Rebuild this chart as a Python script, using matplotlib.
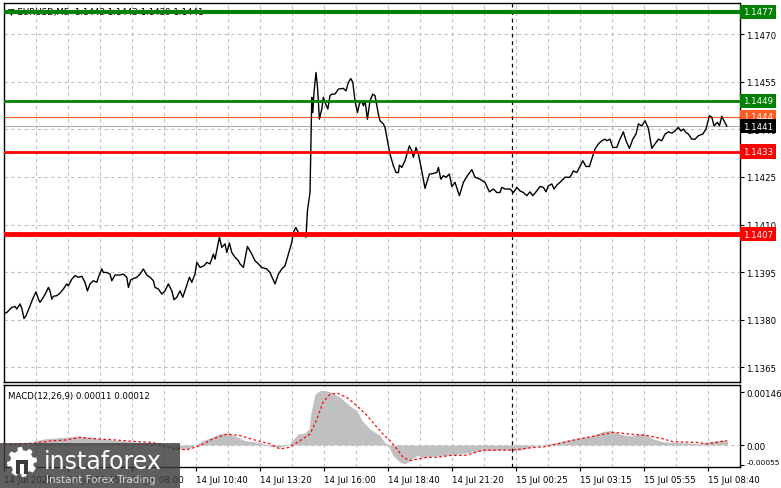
import numpy as np
import matplotlib
matplotlib.use("Agg")
from matplotlib import pyplot as plt
from matplotlib.patches import Rectangle, Polygon
from matplotlib import transforms

plt.rcParams['font.family'] = ['DejaVu Sans']

# price path, x = bar index (M5 bars), y = price
bars = [0, 1.4, 3.9, 5.5, 6.4, 8, 8.9, 10, 11, 12.7, 14.7, 16, 17.2, 18, 19.7, 21, 22.2, 23, 23.9, 24.7,
        26.4, 28, 29.7, 31.4, 32.2, 33.9, 35.5, 37.2, 38.9, 40.5, 41.7, 43, 44.7, 46.4, 47.2, 48.9, 49.7,
        51.4, 53, 53.9, 55.5, 58, 59.7, 61.4, 62.2, 63.4, 64.7, 66.4, 68, 69.7, 71.4, 73, 74.7, 75.5, 77.2,
        78.9, 80.5, 82.2, 83.9, 85, 86.4, 88, 89.4, 91, 92.7, 93.9, 95.5, 96.4, 98, 100, 101.4, 103, 104.7,
        105.5, 107.7, 108.9, 110.5, 111.4, 112.7, 113.9, 115.5, 117.2, 118, 119.7, 121.7, 123.9, 125.5,
        127.2, 128.9, 131.4, 133, 135.5, 137.2, 138.9, 140.5, 142.2, 143.9, 144.7, 145.9, 147.2, 148.4,
        149.7, 151, 151.7, 153, 153.9, 154.4, 155, 156, 156.7, 157.7, 158.9, 159.7, 160.5, 161.9, 163,
        163.9, 165.5, 167.2, 169.7, 171, 172.2, 173.4, 174.4, 175.5, 176.7, 177.7, 178.9, 179.7, 180.5,
        181.7, 183, 184.4, 185.5, 187.2, 188, 189.7, 190.5, 191.4, 193, 194.7, 196, 197.2, 197.7, 198.9,
        200.5, 202.7, 203.9, 204.7, 206, 207.2, 208.9, 210.5, 212.7, 214.7, 216.4, 217.2, 218.4, 219.7,
        221, 222.7, 223.9, 225.5, 227.7, 229.7, 231.7, 233.9, 235.5, 238, 240.5, 242.7, 244.7, 246.4, 248,
        248.9, 250.5, 253, 254.7, 256.4, 258, 259.7, 261.4, 263, 264.4, 266.4, 268, 269.7, 271, 272.2,
        273.9, 275, 276.4, 278, 280.5, 283, 284.7, 286.4, 287.7, 289.4, 291, 292.7, 294.4, 295.5, 297.2,
        298.9, 300.5, 301.4, 303, 304.4, 306.4, 308, 309.7, 311, 312.7, 314.4, 316, 317.2, 318.9, 320.5,
        322.2, 323.9, 325.5, 327.2, 328.9, 330.5, 332.2, 333.9, 335.5, 337.2, 338.4, 339.7, 341, 342.2,
        343.9, 345.5, 347.2, 349.4, 351, 352.7, 353.9, 355, 356.7, 357.7, 358.9, 360, 361.4]
prices = [1.13820, 1.13823, 1.13839, 1.13842, 1.13834, 1.13850, 1.13836, 1.13804, 1.13813, 1.13839,
          1.13871, 1.13888, 1.13865, 1.13855, 1.13871, 1.13886, 1.13902, 1.13891, 1.13865, 1.13874,
          1.13876, 1.13884, 1.13897, 1.13913, 1.13907, 1.13928, 1.13939, 1.13934, 1.13937, 1.13918,
          1.13891, 1.13913, 1.13923, 1.13918, 1.13934, 1.13960, 1.13949, 1.13949, 1.13944, 1.13923,
          1.13941, 1.13941, 1.13944, 1.13934, 1.13902, 1.13926, 1.13930, 1.13934, 1.13944, 1.13960,
          1.13941, 1.13934, 1.13923, 1.13902, 1.13897, 1.13881, 1.13891, 1.13913, 1.13891, 1.13863,
          1.13871, 1.13891, 1.13871, 1.13902, 1.13934, 1.13918, 1.13944, 1.13981, 1.13965, 1.13970,
          1.13981, 1.13976, 1.14007, 1.13991, 1.14060, 1.14028, 1.14039, 1.14012, 1.14042, 1.14012,
          1.13997, 1.13986, 1.13976, 1.13965, 1.14031, 1.14007, 1.13986, 1.13976, 1.13965, 1.13960,
          1.13949, 1.13913, 1.13944, 1.13960, 1.13970, 1.14007, 1.14044, 1.14075, 1.14091, 1.14075,
          1.14063, 1.14067, 1.14060, 1.14143, 1.14201, 1.14501, 1.14453, 1.14516, 1.14579, 1.14537,
          1.14432, 1.14464, 1.14501, 1.14485, 1.14464, 1.14506, 1.14511, 1.14511, 1.14527, 1.14529,
          1.14521, 1.14548, 1.14560, 1.14548, 1.14490, 1.14453, 1.14480, 1.14490, 1.14474, 1.14490,
          1.14432, 1.14490, 1.14511, 1.14506, 1.14448, 1.14427, 1.14417, 1.14406, 1.14375, 1.14322,
          1.14285, 1.14264, 1.14264, 1.14287, 1.14280, 1.14301, 1.14348, 1.14332, 1.14312, 1.14343,
          1.14322, 1.14269, 1.14214, 1.14259, 1.14261, 1.14264, 1.14280, 1.14243, 1.14254, 1.14249,
          1.14259, 1.14220, 1.14233, 1.14191, 1.14233, 1.14254, 1.14273, 1.14249, 1.14243, 1.14233,
          1.14203, 1.14212, 1.14201, 1.14201, 1.14217, 1.14212, 1.14212, 1.14201, 1.14217, 1.14206,
          1.14201, 1.14191, 1.14203, 1.14191, 1.14206, 1.14220, 1.14217, 1.14203, 1.14222, 1.14228,
          1.14212, 1.14224, 1.14233, 1.14249, 1.14249, 1.14269, 1.14264, 1.14280, 1.14301, 1.14283,
          1.14283, 1.14317, 1.14338, 1.14354, 1.14364, 1.14369, 1.14364, 1.14369, 1.14343, 1.14343,
          1.14369, 1.14392, 1.14364, 1.14340, 1.14369, 1.14385, 1.14417, 1.14411, 1.14427, 1.14403,
          1.14340, 1.14354, 1.14369, 1.14364, 1.14385, 1.14392, 1.14388, 1.14395, 1.14406, 1.14395,
          1.14401, 1.14390, 1.14385, 1.14369, 1.14369, 1.14380, 1.14385, 1.14401, 1.14443, 1.14438,
          1.14411, 1.14422, 1.14411, 1.14441, 1.14427, 1.14410]

# MACD histogram outline and signal line
hist_bars = [14.5, 15.5, 20.5, 28, 35.5, 39, 48, 55.5, 63, 70.5, 78, 82, 85.5, 92, 95.5, 99.5, 104.5, 108,
             112, 115.5, 120.5, 128, 133, 138, 142, 144.5, 147, 150.5, 152.5, 153.5, 155.5, 158, 160.5,
             164, 168, 173, 176.5, 179, 183, 188, 190.5, 192, 194.5, 198, 200.5, 203, 206.5, 209.5, 216.5,
             223, 231.5, 239.5, 248, 258, 263, 268, 276.5, 284.5, 293, 299.5, 303, 308, 313, 319.5,
             324.5, 329.5, 334.5, 341.5, 348, 351.5, 361.5, 362]
hist_vals = [0.0, 0.00012, 0.00017, 0.00020, 0.00024, 0.00024, 0.00017, 0.00013, 0.00009, 0.00006,
             0.00003, -0.00005, -0.00011, -0.00011, 0.0, 0.00012, 0.00023, 0.00031, 0.00033, 0.00025,
             0.00012, 0.00007, -0.00004, -0.00006, 0.0, 0.00015, 0.00030, 0.00033, 0.00044, 0.00090,
             0.00140, 0.00150, 0.00150, 0.00145, 0.00131, 0.00108, 0.00094, 0.00067, 0.00044, 0.00026,
             0.00007, 0.0, -0.00029, -0.00048, -0.00052, -0.00043, -0.00029, -0.00034, -0.00030,
             -0.00028, -0.00022, -0.00016, -0.00014, -0.00014, -0.00006, 0.0, 0.00007, 0.00017, 0.00024,
             0.00037, 0.00040, 0.00030, 0.00025, 0.00032, 0.00017, 0.00009, 0.00007, 0.00006, 0.00003,
             0.00009, 0.00014, 0.0]
sig_bars = [0, 8, 16.4, 23, 31.4, 38, 43, 53, 64.5, 74.5, 79.5, 84.5, 91.5, 98, 104.5, 111.5, 118, 126.5,
            133, 138, 143, 148, 153, 156.5, 159.5, 163, 166.5, 171.5, 176.5, 181.5, 186.5, 189.5, 193,
            196.5, 199.5, 203, 206.5, 211.5, 216.5, 223, 231.5, 239.5, 248, 254.5, 263, 271.5, 279.5, 288,
            296.5, 304.5, 313, 321.5, 329.5, 334.5, 346.5, 351.5, 354.5, 361.5]
sig_vals = [0.0, 0.00003, 0.00006, 0.00011, 0.00014, 0.00021, 0.00018, 0.00015, 0.00010, 0.00007,
            -0.00002, -0.00011, -0.00013, -0.00002, 0.00017, 0.00030, 0.00026, 0.00012, 0.00003,
            -0.00011, -0.00006, 0.00012, 0.00030, 0.00072, 0.00118, 0.00140, 0.00143, 0.00131, 0.00108,
            0.00081, 0.00049, 0.00030, 0.00012, -0.00011, -0.00034, -0.00043, -0.00039, -0.00034,
            -0.00034, -0.00029, -0.00028, -0.00014, -0.00014, -0.00014, -0.00008, -0.00004, 0.00007,
            0.00017, 0.00026, 0.00035, 0.00030, 0.00026, 0.00017, 0.00009, 0.00007, 0.00003, 0.00006,
            0.00012]

price_ticks = [1.1365, 1.1380, 1.1395, 1.1410, 1.1425, 1.1440, 1.1455, 1.1470]
macd_ticks = [0.00146, 0.0, -0.00055]
macd_tick_labels = ['0.00146', '0.00', '-0.00055']
time_labels = ["14 Jul 2025", "14 Jul 05:05", "14 Jul 08:00", "14 Jul 10:40", "14 Jul 13:20",
               "14 Jul 16:00", "14 Jul 18:40", "14 Jul 21:20", "15 Jul 00:25", "15 Jul 03:15",
               "15 Jul 05:55", "15 Jul 08:40"]
levels = [(1.1477, '#008000', 3.0), (1.1449, '#008000', 2.0), (1.1433, '#ff0000', 2.0), (1.1407, '#ff0000', 3.5)]
ask_price = 1.1444
bid_price = 1.1441
separator_bar = 254

W, H = 781, 489
fig = plt.figure(figsize=(W / 100, H / 100), dpi=100)
fig.patch.set_facecolor('white')
ax = fig.add_axes([4 / W, 1 - 383 / H, 736 / W, 379 / H])
ax2 = fig.add_axes([4 / W, 1 - 468 / H, 736 / W, 82 / H])

fs = 6.2
grid_kw = dict(color='#c0c0c0', lw=0.8, ls=(0, (3, 3)), zorder=0)
vgrid = np.arange(16, 368, 16)

# main panel
ax.set_xlim(0, 368)
ax.set_ylim(1.13604, 1.14798)
for g in vgrid:
    ax.axvline(g, **grid_kw)
for t in price_ticks:
    ax.axhline(t, **grid_kw)
ax.plot(bars, prices, color='black', lw=1, zorder=3)
for lv, c, w in levels:
    ax.axhline(lv, color=c, lw=w, zorder=4)
ax.axhline(ask_price, color='#ff5a1f', lw=0.8, zorder=2)
ax.axhline(bid_price, color='#b0b0b0', lw=0.8, zorder=2)
ax.axvline(separator_bar, color='black', lw=0.9, ls=(0, (3, 3)), zorder=2)
ax.yaxis.tick_right()
ax.set_yticks(price_ticks)
ax.set_yticklabels(['%.4f' % t for t in price_ticks])
ax.tick_params(axis='y', labelsize=fs, length=3, pad=1.5, direction='out')
ax.set_xticks([])
for s in ax.spines.values():
    s.set_linewidth(1)

# level tags on the price scale
tr = transforms.blended_transform_factory(ax.transAxes, ax.transData)
tags = [(1.1477, '#008000'), (1.1449, '#008000'), (ask_price, '#ff5a1f'),
        (bid_price, 'black'), (1.1433, '#ff0000'), (1.1407, '#ff0000')]
for v, bg in tags:
    ax.text(1.004, v, '%.4f' % v, transform=tr, fontsize=fs, color='white', va='center', ha='left',
            clip_on=False, zorder=6,
            bbox=dict(boxstyle='square,pad=0.3', fc=bg, ec='none'))

ax.text(0.005, 0.99, '\u25bc EURUSD,M5  1.1443 1.1443 1.1439 1.1441', transform=ax.transAxes,
        fontsize=fs, va='top', ha='left', color='black', zorder=1)

# MACD panel
ax2.set_xlim(0, 368)
ax2.set_ylim(-0.000606, 0.001653)
for g in vgrid:
    ax2.axvline(g, **grid_kw)
ax2.axhline(0, **grid_kw)
ax2.fill_between(hist_bars, hist_vals, 0, color='#c0c0c0', lw=0, zorder=2)
ax2.plot(sig_bars, sig_vals, color='red', lw=0.9, ls=(0, (2, 2)), zorder=3)
ax2.axvline(separator_bar, color='black', lw=0.9, ls=(0, (3, 3)), zorder=2)
ax2.yaxis.tick_right()
ax2.set_yticks(macd_ticks)
ax2.set_yticklabels(macd_tick_labels)
ax2.tick_params(axis='y', labelsize=fs, length=3, pad=1.5, direction='out')
low = ax2.get_yticklabels()[2]
low.set_va('bottom')
low.set_fontsize(5.4)
ax2.set_xticks(np.arange(0, 368, 32))
ax2.set_xticklabels(time_labels, ha='left')
ax2.tick_params(axis='x', labelsize=fs, length=3, pad=3, direction='out')
for s in ax2.spines.values():
    s.set_linewidth(1)
ax2.text(0.005, 0.93, 'MACD(12,26,9) 0.00011 0.00012', transform=ax2.transAxes,
         fontsize=fs, va='top', ha='left', color='black')

# watermark logo
fig.patches.append(Rectangle((0, 0), 180 / W, 45 / H, transform=fig.transFigure,
                             fc='#3c3c3c', ec='none', alpha=0.82, zorder=10))
cx, cy, r = 22 / W, 1 - 463 / H, 15
ang = np.linspace(0, 2 * np.pi, 65)
rad = np.where((np.floor(ang / (2 * np.pi / 16)) % 2) == 0, r, r * 0.78)
gear = np.column_stack([cx + rad * np.cos(ang) / W, cy + rad * np.sin(ang) / H])
fig.patches.append(Polygon(gear, closed=True, transform=fig.transFigure, fc='white', ec='none', zorder=11))
fig.patches.append(Rectangle((cx - 6 / W, cy - 12 / H), 12 / W, 14 / H, transform=fig.transFigure,
                             fc='#3c3c3c', ec='none', zorder=12))
fig.patches.append(Rectangle((cx - 2.5 / W, cy - 12 / H), 5 / W, 10 / H, transform=fig.transFigure,
                             fc='white', ec='none', zorder=13))
fig.text(44 / W, 1 - 462 / H, 'instaforex', fontsize=17, color='white', va='center', ha='left', zorder=14)
fig.text(46 / W, 1 - 480 / H, 'Instant Forex Trading', fontsize=7.5, color='#d8d8d8', va='center',
         ha='left', zorder=14)

fig.savefig('out.png', dpi=100, facecolor='white')
